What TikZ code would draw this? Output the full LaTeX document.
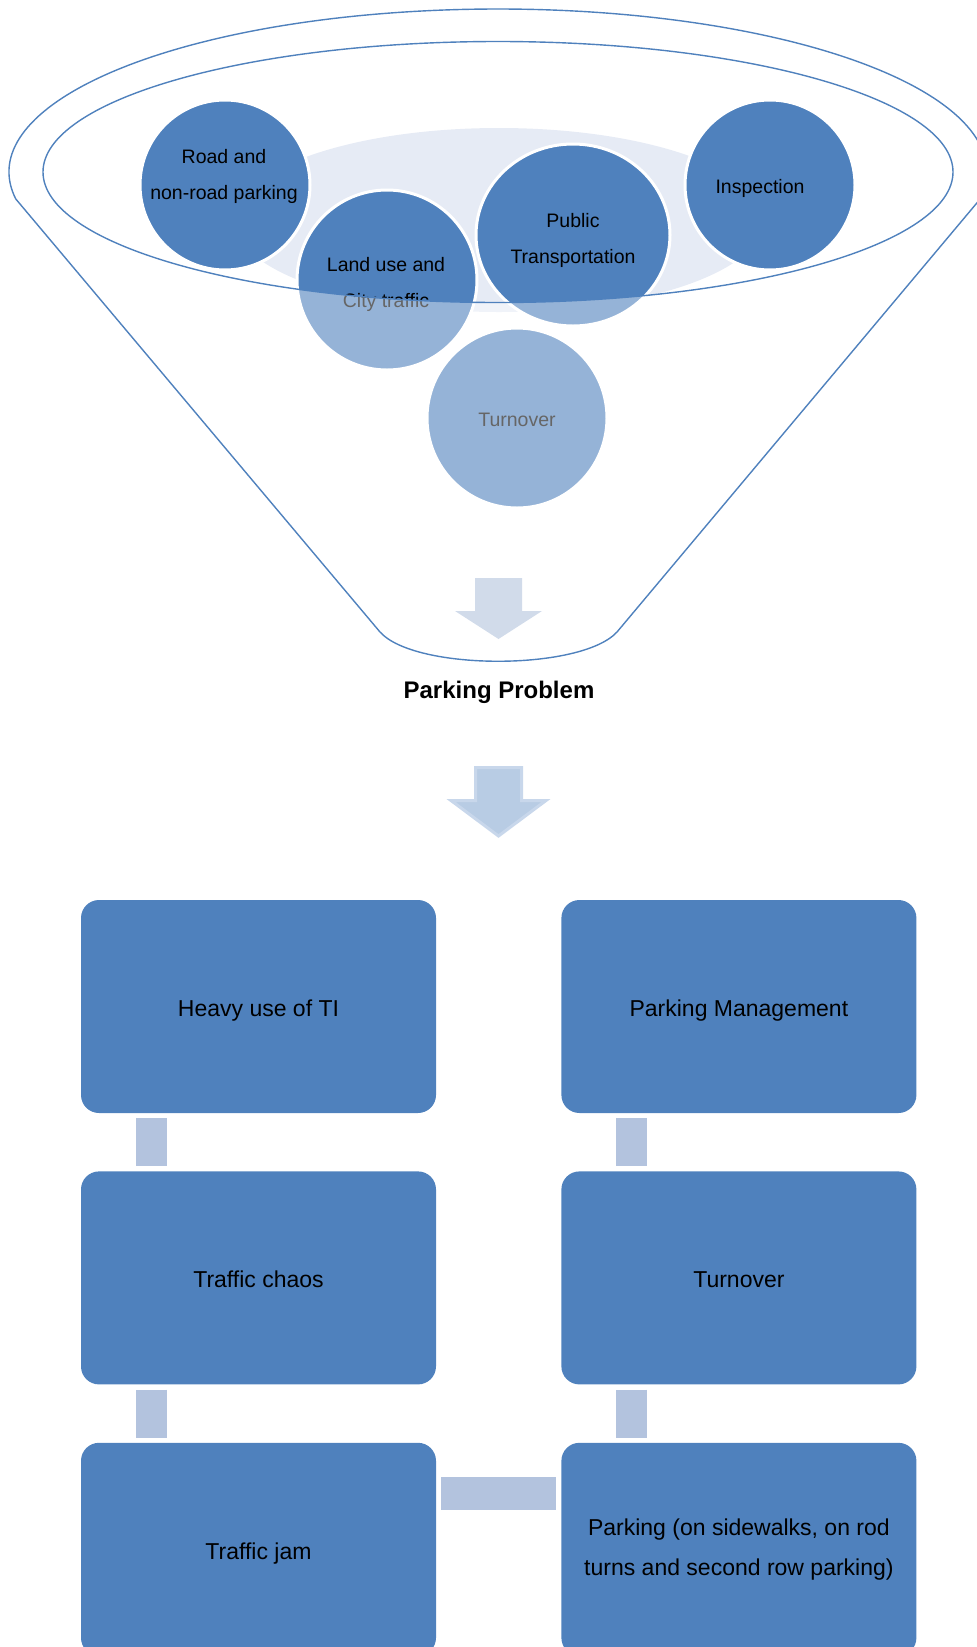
\documentclass[tikz,border=0pt]{standalone}
\usepackage{fontspec}
\setmainfont{Liberation Sans}
\usetikzlibrary{positioning,shapes.geometric}

\definecolor{funnelblue}{HTML}{4F81BD}
\definecolor{liquid}{HTML}{E6EBF5}
\definecolor{arrowpale}{HTML}{D1DBEA}
\definecolor{arrowfill}{HTML}{B8CCE4}
\definecolor{arrowrim}{HTML}{C8D7EB}
\definecolor{barblue}{HTML}{B3C3DE}

\tikzset{
  ball/.style={circle, fill=funnelblue, draw=white, line width=3pt, inner sep=0pt},
  balltext/.style={align=center, font=\fontsize{19.5}{36}\selectfont},
  card/.style={rectangle, rounded corners=18pt, fill=funnelblue, minimum width=355pt,
    minimum height=213pt, inner sep=0pt, align=center, font=\fontsize{23}{40}\selectfont},
  cardline/.style={card, text height=20pt, text depth=0pt},
  link/.style={barblue, line width=31pt, shorten <=5pt, shorten >=5pt},
  rim/.style={funnelblue, line width=1.4pt},
}

\begin{document}
\begin{tikzpicture}[x=1pt, y=-1pt]

% Page (pixel grid, y down)
\useasboundingbox (0,0) rectangle (977,1647);
\clip (0,0) rectangle (977,1647);

% Funnel mouth centre
\def\mx{498}
\def\my{172}

% Liquid in the funnel
\fill[liquid] (499,220) ellipse [x radius=265, y radius=92];

% Balls
\node[ball, minimum size=170pt] (road) at (225,185) {};
\node[ball, minimum size=170pt] (insp) at (770,185) {};
\node[ball, minimum size=180pt] (land) at (387,280) {};
\node[ball, ellipse, minimum width=194pt, minimum height=182pt] (pub) at (573,235) {};
\node[ball, minimum size=180pt] (turn0) at (517,418) {};

\node[balltext] (roadtxt) at (224,176) {Road and\\non-road parking};
\node[balltext] (insptxt) at (760,188) {Inspection};
\node[balltext] (landtxt) at (386,284) {Land use and\\City traffic};
\node[balltext] (pubtxt) at (573,240) {Public\\Transportation};
\node[balltext] (turn0txt) at (517,420) {Turnover};

% Fade below the mouth
\fill[white, opacity=0.4, even odd rule] (0,0) rectangle (977,540)
  (\mx,\my) ellipse [x radius=455, y radius=130.5];

% Rims
\draw[rim] (\mx,\my) ellipse [x radius=455, y radius=130.5];
\draw[rim] ([shift={(170.5:489 and 163)}]\mx,\my)
  arc[start angle=170.5, end angle=369.5, x radius=489, y radius=163]
  -- (617,632) .. controls (581,671) and (415,671) .. (380,632) -- cycle;

% Arrow out of the funnel
\fill[arrowpale] (475,578) -- (522,578) -- (522,611) -- (542,611) -- (498.5,639)
  -- (455,611) -- (475,611) -- cycle;

\node[font=\bfseries\fontsize{24}{28}\selectfont] (problem) at (499,692) {Parking Problem};

% Arrow to the boxes
\filldraw[fill=arrowfill, draw=arrowrim, line width=3pt]
  (475.5,767.5) -- (521.5,767.5) -- (521.5,800.5) -- (546,800.5) -- (498.5,836)
  -- (451,800.5) -- (475.5,800.5) -- cycle;

% Boxes
\node[cardline] (heavy) at (258.5,1006.5) {Heavy use of TI};
\node[cardline, right=125pt of heavy] (mgmt) {Parking Management};
\node[cardline, below=58pt of heavy] (chaos) {Traffic chaos};
\node[cardline, below=58pt of mgmt] (turn) {Turnover};
\node[cardline, below=58pt of chaos] (jam) {Traffic jam};
\node[card, below=58pt of turn] (sidewalk) {Parking (on sidewalks, on rod\\turns and second row parking)};

% Links
\draw[link] ([xshift=70.5pt]heavy.south west) -- ([xshift=70.5pt]chaos.north west);
\draw[link] ([xshift=70.5pt]chaos.south west) -- ([xshift=70.5pt]jam.north west);
\draw[link] ([xshift=70.5pt]mgmt.south west) -- ([xshift=70.5pt]turn.north west);
\draw[link] ([xshift=70.5pt]turn.south west) -- ([xshift=70.5pt]sidewalk.north west);
\draw[link, line width=33pt] ([yshift=-50.5pt]jam.north east) -- ([yshift=-50.5pt]sidewalk.north west);

\end{tikzpicture}
\end{document}
